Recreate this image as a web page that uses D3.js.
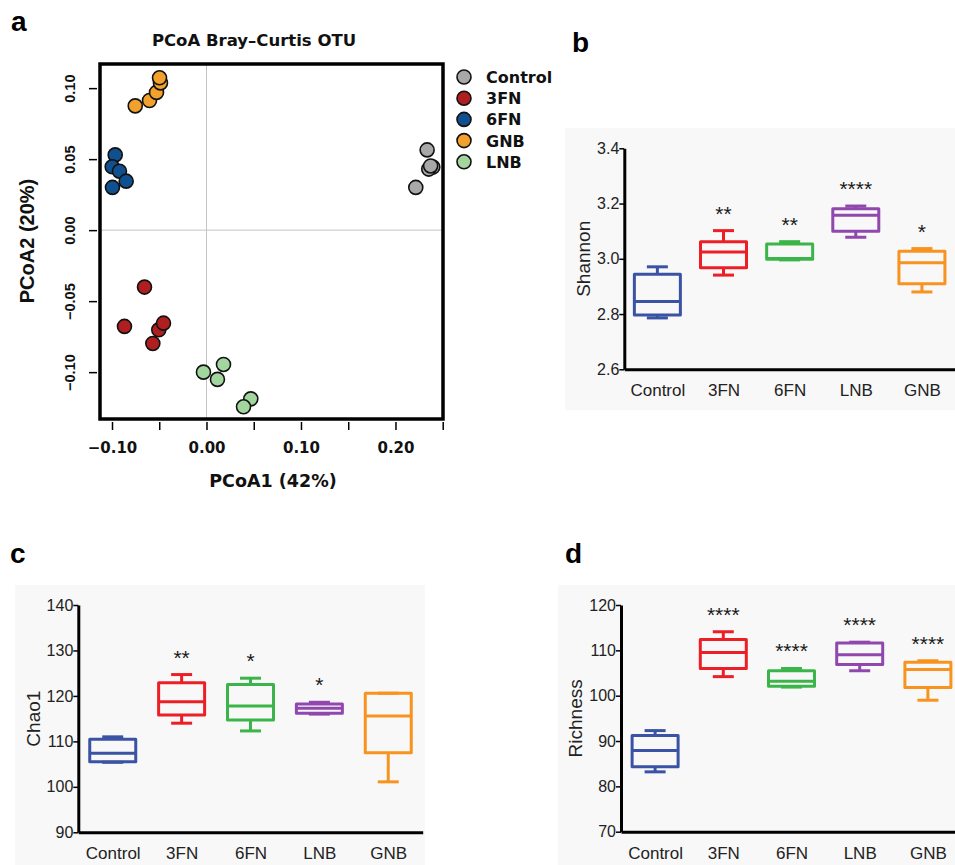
<!DOCTYPE html>
<html>
<head>
<meta charset="utf-8">
<script src="https://cdn.jsdelivr.net/npm/d3@7"></script>
<style>
  body { margin: 0; background: #fff; }
  svg { display: block; font-family: "Liberation Sans", Arial, sans-serif; }
</style>
</head>
<body>
<svg id="fig" width="955" height="865"></svg>
<script>
// ---- panel a data (PCoA) ----
const pcoaGroups = ["Control", "3FN", "6FN", "GNB", "LNB"];
const pointGroup = ["Control", "Control", "Control", "Control", "Control",
                    "3FN", "3FN", "3FN", "3FN", "3FN",
                    "6FN", "6FN", "6FN", "6FN", "6FN",
                    "GNB", "GNB", "GNB", "GNB", "GNB",
                    "LNB", "LNB", "LNB", "LNB", "LNB"];
const pointPC1 = [0.2335, 0.2395, 0.2352, 0.2215, 0.2372,
                  -0.0656, -0.0868, -0.0505, -0.0455, -0.0568,
                  -0.0966, -0.0998, -0.0921, -0.0850, -0.0995,
                  -0.0754, -0.0603, -0.0529, -0.0487, -0.0497,
                  -0.0032, 0.0180, 0.0116, 0.0469, 0.0392];
const pointPC2 = [0.0565, 0.0444, 0.0430, 0.0301, 0.0452,
                  -0.0401, -0.0678, -0.0702, -0.0655, -0.0798,
                  0.0530, 0.0446, 0.0415, 0.0345, 0.0301,
                  0.0875, 0.0913, 0.0970, 0.1037, 0.1073,
                  -0.1000, -0.0946, -0.1051, -0.1188, -0.1244];
const pcoaXTicks = [-0.10, -0.05, 0.00, 0.05, 0.10, 0.15, 0.20, 0.25];
const pcoaXLabels = [-0.10, 0.00, 0.10, 0.20];
const pcoaYTicks = [0.10, 0.05, 0.00, -0.05, -0.10];

// ---- box plot data: [whisker low, q1, median, q3, whisker high] ----
const boxCategories = ["Control", "3FN", "6FN", "LNB", "GNB"];
const shannonStats = [[2.786, 2.797, 2.845, 2.944, 2.971],
                      [2.941, 2.968, 3.025, 3.062, 3.102],
                      [2.996, 2.998, 3.001, 3.054, 3.062],
                      [3.078, 3.100, 3.158, 3.181, 3.191],
                      [2.880, 2.910, 2.986, 3.027, 3.037]];
const shannonSig = ["", "**", "**", "****", "*"];
const shannonTicks = [2.6, 2.8, 3.0, 3.2, 3.4];

const chao1Stats = [[105.4, 105.5, 107.4, 110.45, 111.0],
                    [114.0, 115.8, 118.7, 122.9, 124.7],
                    [112.3, 114.7, 117.8, 122.5, 123.9],
                    [116.0, 116.2, 117.3, 118.2, 118.6],
                    [101.1, 107.5, 115.6, 120.6, 120.6]];
const chao1Sig = ["", "**", "*", "*", ""];
const chao1Ticks = [90, 100, 110, 120, 130, 140];

const richnessStats = [[83.2, 84.3, 87.9, 91.2, 92.3],
                       [104.2, 106.0, 109.5, 112.4, 114.1],
                       [101.9, 102.1, 103.2, 105.5, 106.0],
                       [105.5, 106.9, 109.0, 111.6, 111.8],
                       [99.0, 101.8, 105.8, 107.4, 107.7]];
const richnessSig = ["", "****", "****", "****", "****"];
const richnessTicks = [70, 80, 90, 100, 110, 120];

const svg = d3.select("#fig");
const darkText = "#111";
const wideBold = "'DejaVu Sans', Verdana, sans-serif";

// ===== panel a =====
function drawPcoa() {
  let colors = d3.scaleOrdinal()
    .domain(pcoaGroups)
    .range(["#a8a8a8", "#b01f1f", "#11508f", "#f2a12c", "#a2d69e"]);

  let x = d3.scaleLinear().domain([-0.1127, 0.2503]).range([100, 443]);
  let y = d3.scaleLinear().domain([-0.133, 0.117]).range([419, 64]);

  // zero reference lines
  svg.append("line")
    .attr("x1", x(0)).attr("x2", x(0))
    .attr("y1", 64).attr("y2", 419)
    .style("stroke", "#c4c4c4").style("stroke-width", 1);
  svg.append("line")
    .attr("x1", 100).attr("x2", 443)
    .attr("y1", y(0)).attr("y2", y(0))
    .style("stroke", "#c4c4c4").style("stroke-width", 1);

  // points
  svg.selectAll(".pt")
    .data(pointPC1.map((v, i) => ({ g: pointGroup[i], x: v, y: pointPC2[i] })))
    .enter().append("circle")
    .attr("class", "pt")
    .attr("cx", d => x(d.x))
    .attr("cy", d => y(d.y))
    .attr("r", 7)
    .attr("fill", d => colors(d.g))
    .style("stroke", "#111")
    .style("stroke-width", 1.6);

  // frame
  svg.append("rect")
    .attr("x", 100).attr("y", 64)
    .attr("width", 343).attr("height", 355)
    .attr("fill", "none")
    .style("stroke", "#000").style("stroke-width", 3.5);

  // x axis
  let xAxis = d3.axisBottom(x)
    .tickValues(pcoaXTicks)
    .tickSize(8)
    .tickSizeOuter(0)
    .tickFormat(d => pcoaXLabels.some(v => Math.abs(v - d) < 1e-9) ? d3.format(".2f")(d).replace("-", "\u2013") : "");
  let gx = svg.append("g").attr("transform", "translate(0,422)").call(xAxis);
  gx.select(".domain").remove();
  gx.selectAll(".tick line").style("stroke", "#000").style("stroke-width", 1.5);
  gx.selectAll(".tick text")
    .attr("y", 20)
    .style("font-family", wideBold)
    .style("font-size", "15px").style("font-weight", "bold").style("fill", darkText);

  // y axis (labels parallel to axis)
  let yAxis = d3.axisLeft(y)
    .tickValues(pcoaYTicks)
    .tickSize(8)
    .tickSizeOuter(0)
    .tickFormat(d => d3.format(".2f")(d).replace("-", "\u2013"));
  let gy = svg.append("g").attr("transform", "translate(97,0)").call(yAxis);
  gy.select(".domain").remove();
  gy.selectAll(".tick line").style("stroke", "#000").style("stroke-width", 1.5);
  gy.selectAll(".tick text")
    .attr("x", null).attr("dy", null)
    .attr("transform", "translate(-22,0) rotate(-90)")
    .style("text-anchor", "middle")
    .style("font-size", "14.5px").style("font-weight", "bold").style("fill", darkText);

  // titles
  svg.append("text")
    .attr("x", 254).attr("y", 46)
    .text("PCoA Bray\u2013Curtis OTU")
    .style("text-anchor", "middle")
    .style("font-family", wideBold)
    .style("font-size", "16.5px").style("font-weight", "bold").style("fill", darkText);
  svg.append("text")
    .attr("x", 273).attr("y", 487)
    .text("PCoA1 (42%)")
    .style("text-anchor", "middle")
    .style("font-family", wideBold)
    .style("font-size", "17.5px").style("font-weight", "bold").style("fill", darkText);
  svg.append("text")
    .attr("transform", "translate(34,241) rotate(-90)")
    .text("PCoA2 (20%)")
    .style("text-anchor", "middle")
    .style("font-size", "20px").style("font-weight", "bold").style("fill", darkText);

  // legend
  let legend = svg.selectAll(".legend")
    .data(pcoaGroups)
    .enter().append("g")
    .attr("class", "legend")
    .attr("transform", (d, i) => "translate(464," + (77 + i * 21.2) + ")");
  legend.append("circle")
    .attr("r", 7)
    .attr("fill", d => colors(d))
    .style("stroke", "#111").style("stroke-width", 1.6);
  legend.append("text")
    .attr("x", 22).attr("y", 6)
    .text(d => d)
    .style("font-family", wideBold)
    .style("font-size", "16px").style("font-weight", "bold").style("fill", darkText);
}

// ===== panels b, c, d =====
const boxColors = ["#3a53a4", "#ec1f26", "#3bb54a", "#9047ae", "#f7931e"];

function drawBoxPanel(cfg) {
  // panel background
  svg.append("rect")
    .attr("x", cfg.bg[0]).attr("y", cfg.bg[1])
    .attr("width", cfg.bg[2]).attr("height", cfg.bg[3])
    .attr("fill", "#f8f8f8");

  let y = d3.scaleLinear().domain(cfg.domain).range([cfg.bottom, cfg.top]);
  let x = d3.scalePoint().domain(boxCategories).range([cfg.left, cfg.right]).padding(0.5);

  let boxW = 46, capW = 21;
  let g = svg.append("g");
  let boxes = g.selectAll(".box")
    .data(cfg.stats)
    .enter().append("g")
    .attr("transform", (d, i) => "translate(" + x(boxCategories[i]) + ",0)")
    .style("stroke", (d, i) => boxColors[i])
    .style("stroke-width", 3)
    .style("fill", "none")
    .style("stroke-linejoin", "round");

  boxes.append("line")
    .attr("x1", 0).attr("x2", 0)
    .attr("y1", d => y(d[3])).attr("y2", d => y(d[4]));
  boxes.append("line")
    .attr("x1", 0).attr("x2", 0)
    .attr("y1", d => y(d[1])).attr("y2", d => y(d[0]));
  boxes.append("line")
    .attr("x1", -capW / 2).attr("x2", capW / 2)
    .attr("y1", d => y(d[4])).attr("y2", d => y(d[4]));
  boxes.append("line")
    .attr("x1", -capW / 2).attr("x2", capW / 2)
    .attr("y1", d => y(d[0])).attr("y2", d => y(d[0]));
  boxes.append("rect")
    .attr("x", -boxW / 2).attr("width", boxW)
    .attr("y", d => y(d[3]))
    .attr("height", d => y(d[1]) - y(d[3]));
  boxes.append("line")
    .attr("x1", -boxW / 2).attr("x2", boxW / 2)
    .attr("y1", d => y(d[2])).attr("y2", d => y(d[2]));

  // significance stars
  g.selectAll(".sig")
    .data(cfg.sig)
    .enter().append("text")
    .attr("x", (d, i) => x(boxCategories[i]))
    .attr("y", (d, i) => y(cfg.stats[i][4]) - 10)
    .text(d => d)
    .style("text-anchor", "middle")
    .style("font-size", "21px")
    .style("fill", "#1a1a1a");

  // y axis
  let yAxis = d3.axisLeft(y).tickValues(cfg.ticks).tickSize(5).tickSizeOuter(0)
    .tickFormat(cfg.format);
  let gy = svg.append("g").attr("transform", "translate(" + cfg.left + ",0)").call(yAxis);
  gy.select(".domain").style("stroke", "#000").style("stroke-width", 3);
  gy.selectAll(".tick line").style("stroke", "#000").style("stroke-width", 1.5);
  gy.selectAll(".tick text").attr("x", -5)
    .style("font-size", "16px").style("font-family", "Liberation Sans, Arial, sans-serif").style("fill", "#222");

  // x axis
  let xAxis = d3.axisBottom(x).tickSize(0).tickSizeOuter(0);
  let gx = svg.append("g").attr("transform", "translate(0," + cfg.bottom + ")").call(xAxis);
  gx.select(".domain").style("stroke", "#000").style("stroke-width", 3);
  gx.selectAll(".tick text").attr("y", 15)
    .style("font-size", "17px").style("font-family", "Liberation Sans, Arial, sans-serif").style("fill", "#222");

  // y label
  svg.append("text")
    .attr("transform", "translate(" + cfg.labelX + "," + (cfg.top + cfg.bottom) / 2 + ") rotate(-90)")
    .attr("dy", "0.35em")
    .text(cfg.label)
    .style("text-anchor", "middle")
    .style("font-size", "19px")
    .style("fill", "#222");
}

drawPcoa();

drawBoxPanel({
  bg: [565, 128, 390, 282],
  domain: [2.6, 3.4], top: 148.3, bottom: 369.3, left: 624.3, right: 955,
  stats: shannonStats, sig: shannonSig, ticks: shannonTicks,
  format: d3.format(".1f"), label: "Shannon", labelX: 583
});
drawBoxPanel({
  bg: [15, 585, 410, 280],
  domain: [90, 140], top: 605, bottom: 832.3, left: 78.3, right: 422.7,
  stats: chao1Stats, sig: chao1Sig, ticks: chao1Ticks,
  format: d3.format("d"), label: "Chao1", labelX: 33
});
drawBoxPanel({
  bg: [558, 585, 397, 280],
  domain: [70, 120], top: 605, bottom: 831.7, left: 621, right: 962,
  stats: richnessStats, sig: richnessSig, ticks: richnessTicks,
  format: d3.format("d"), label: "Richness", labelX: 575
});

// panel letters
[["a", 11, 31], ["b", 572, 52], ["c", 10, 563], ["d", 565, 563]].forEach(p => {
  svg.append("text")
    .attr("x", p[1]).attr("y", p[2])
    .text(p[0])
    .style("font-size", "28px").style("font-weight", "bold").style("fill", "#000");
});
</script>
</body>
</html>
